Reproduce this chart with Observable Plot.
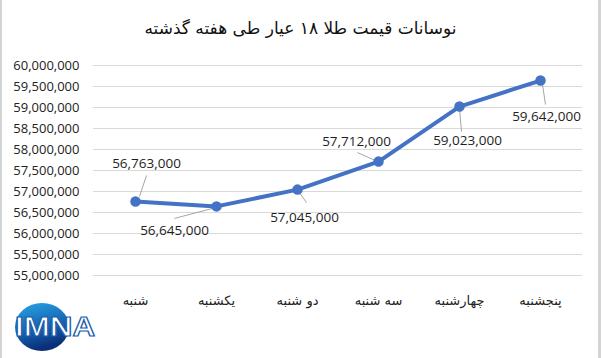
<!DOCTYPE html>
<html><head><meta charset="utf-8">
<script src="https://cdn.jsdelivr.net/npm/d3@7"></script>
<script src="https://cdn.jsdelivr.net/npm/@observablehq/plot@0.6"></script>
<style>
body{margin:0;background:#fff}
#wrap{position:relative;width:601px;height:358px;overflow:hidden;background:#fff}
#title{position:absolute;top:18px;left:0;width:601px;text-align:center;font-family:"DejaVu Sans",sans-serif;font-size:17px;color:#111;direction:rtl}
#frameL{position:absolute;left:0;top:0;width:2px;height:358px;background:#d4d4d4}
#frameR{position:absolute;right:0;top:0;width:3px;height:358px;background:#d4d4d4}
#logo{position:absolute;left:10px;top:300px}
#chart{position:absolute;left:0;top:0}
</style></head>
<body><div id="wrap"><div id="chart"></div><div id="title">نوسانات قیمت طلا ۱۸ عیار طی هفته گذشته</div>
<svg id="logo" width="95" height="55" viewBox="0 0 95 55">
<defs><linearGradient id="g" x1="0" y1="0" x2="0.3" y2="1"><stop offset="0" stop-color="#2aa6e6"/><stop offset="0.6" stop-color="#1463b3"/><stop offset="1" stop-color="#0a2f78"/></linearGradient></defs>
<ellipse cx="32" cy="27" rx="27" ry="24" fill="url(#g)"/>
<text x="5" y="36" font-family="Liberation Sans" font-weight="bold" font-size="27" fill="#fff" stroke="#1a5eab" stroke-width="1.2" textLength="80" lengthAdjust="spacingAndGlyphs">IMNA</text>
</svg>
<div id="frameL"></div><div id="frameR"></div></div>
<script>
const days = ["شنبه", "یکشنبه", "دو شنبه", "سه شنبه", "چهارشنبه", "پنجشنبه"];
const prices = [56763000, 56645000, 57045000, 57712000, 59023000, 59642000];
const yTicks = [55000000, 55500000, 56000000, 56500000, 57000000, 57500000, 58000000, 58500000, 59000000, 59500000, 60000000];

// layout-only offsets (pixels) for data labels and leader lines
const labelOffsets = [[11,-38],[-42,24],[7,28],[-22,-20],[8,34],[6,36]];
const leaderOffsets = [[11,-26,4,-5],[-42,12,-4,2],[2,3,9,13],[-21,-9,-3,-1],[0,2,2,25],[2,4,5,24]];

const rows = days.map((d,i)=>({day:d, price:prices[i], i}));
const fmt = d3.format(",");
const blue = "#4472C4";

const labelMarks = rows.map((r,i)=>Plot.text([r], {x:"day", y:"price", text:d=>fmt(d.price), dx:labelOffsets[i][0], dy:labelOffsets[i][1], fontSize:13.5, fill:"#1e1e1e", fontFamily:"Open Sans"}));

const chart = Plot.plot({
  width:601, height:358,
  marginLeft:93, marginRight:19, marginTop:65, marginBottom:83,
  style:{fontFamily:"Open Sans", fontSize:"13px", color:"#222", background:"transparent"},
  x:{type:"point", domain:days, padding:0.5, label:null},
  y:{domain:[55000000,60000000], label:null},
  marks:[
    Plot.gridY(yTicks, {stroke:"#d9d9d9", strokeOpacity:1}),
    Plot.axisY(yTicks, {tickSize:0, tickPadding:14, tickFormat:fmt, fontSize:13, label:null}),
    Plot.axisX({tickSize:0, tickPadding:20, fontSize:13, fontFamily:"DejaVu Sans", label:null}),
    Plot.link(rows, {x1:"day", y1:"price", x2:"day", y2:"price", stroke:"#a6a6a6", strokeWidth:1,
      render(index, scales, values, dims, ctx, next){
        const v = Object.assign({}, values, {
          x1: Array.from(values.x1, (x,k)=>x+leaderOffsets[k][0]),
          y1: Array.from(values.y1, (y,k)=>y+leaderOffsets[k][1]),
          x2: Array.from(values.x2, (x,k)=>x+leaderOffsets[k][2]),
          y2: Array.from(values.y2, (y,k)=>y+leaderOffsets[k][3])
        });
        return next(index, scales, v, dims, ctx);
      }}),
    Plot.line(rows, {x:"day", y:"price", stroke:blue, strokeWidth:4}),
    Plot.dot(rows, {x:"day", y:"price", r:4.5, fill:blue, stroke:blue}),
    ...labelMarks
  ]
});
document.getElementById("chart").appendChild(chart);
</script></body></html>
